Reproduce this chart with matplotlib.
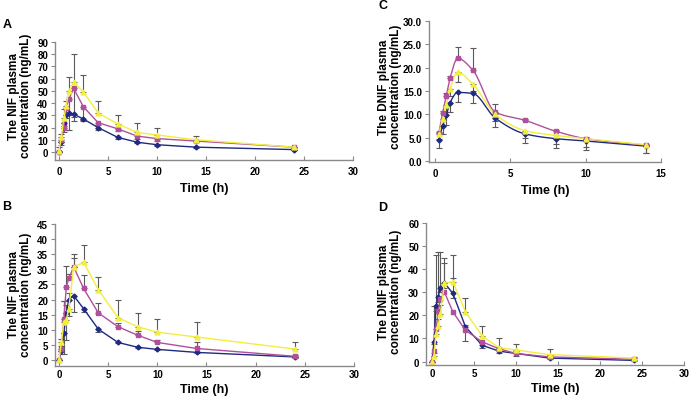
import numpy as np
import matplotlib.pyplot as plt

plt.rcParams['font.family'] = ['Liberation Sans', 'DejaVu Sans']
plt.rcParams['font.weight'] = 'bold'

# sampling times (h)
t_full = [0, 0.25, 0.5, 0.75, 1, 1.5, 2.5, 4, 6, 8, 10, 14, 24]
t_c = [0.25, 0.5, 0.75, 1, 1.5, 2.5, 4, 6, 8, 10, 14]

# panel A - NIF
a_blue = [0, 8, 24, 30, 32, 31, 27, 20, 12, 8, 6, 4, 2]
a_purple = [0, 10, 20, 36, 43, 52, 37, 24, 19, 13, 11, 9, 4]
a_yellow = [1, 12, 28, 38, 50, 57, 49, 32, 23, 16, 14, 10, 4]
a_yellow_up = [3, 3, 7, 4, 11, 23, 14, 9.5, 7.5, 7.5, 6, 3.5, 0.5]
a_purple_dn = [0, 2, 4, 18, 25, 27, 11, 2, 2, 2, 2, 1, 0.5]
a_blue_dn = [0, 2, 3, 2, 2, 2, 2, 2, 1.5, 1, 1, 0.5, 0.3]

# panel B - NIF
b_blue = [0, 3, 9, 15.5, 20, 21.3, 17, 10.2, 5.8, 4.2, 3.5, 2.5, 1]
b_purple = [0, 3.5, 13.5, 24.2, 27, 30.8, 23.7, 15.6, 11, 8.2, 5.8, 3.8, 1.2]
b_yellow = [0, 5.8, 12.5, 13.3, 17, 30.7, 32.3, 23.3, 14, 11, 9.2, 7.6, 3.6]
b_yellow_up = [0, 1, 7, 5, 5.3, 4.3, 5.9, 4.2, 5.7, 4.6, 4.4, 5.1, 2.2]
b_purple_up = [0, 1, 6, 6.8, 1.5, 3, 4.3, 3.4, 1.2, 1.5, 0.7, 2, 0.3]
b_blue_dn = [0, 1, 7, 9, 5.5, 5.3, 1, 0.8, 0.3, 0.3, 0.3, 0.3, 0.2]

# panel C - DNIF
c_blue = [4.5, 7.5, 9.8, 12.5, 14.7, 14.5, 9.2, 5.8, 4.8, 4.3, 3.2]
c_purple = [6.0, 10.2, 14, 17.8, 22, 19.5, 10.5, 8.7, 6.4, 4.8, 3.4]
c_yellow = [5.8, 9, 12, 15.5, 19, 16.5, 10, 6.5, 5.5, 4.8, 3.5]
c_purple_up = [0.3, 0.5, 0.5, 0.5, 2.5, 4.7, 1.7, 0.3, 0.3, 0.3, 0.3]
c_blue_dn = [1.8, 1.8, 2, 2, 2, 2.1, 1.9, 1.9, 1.9, 1.9, 1.5]
c_yellow_dn = [1, 1.5, 1.5, 1.5, 2, 1.5, 1.5, 1.5, 1.8, 1.7, 1.8]

# panel D - DNIF
d_blue = [0, 8.5, 24, 28, 32, 34, 29.5, 15, 7, 4.5, 3.5, 1.5, 0.5]
d_purple = [0, 4.5, 14, 22, 27, 30, 21.5, 13.5, 8.5, 5.5, 3.5, 2, 1]
d_yellow = [0, 2.5, 12, 15.5, 20.5, 34, 34.5, 21.5, 11, 6, 5, 3, 1.5]
d_blue_up = [0, 15.5, 22, 19.5, 15.5, 11, 6.5, 1, 1, 1, 1, 0.5, 0.3]
d_yellow_up = [0, 1, 2, 3, 4, 8.5, 11.5, 6, 4.5, 4, 2.8, 2.5, 0.5]
d_blue_dn = [0, 1, 2, 2, 2, 2, 2, 6, 1, 1, 1, 0.5, 0.2]

BLUE = '#1f2a80'
PURPLE = '#b0509c'
YELLOW = '#f2ee40'
ERR = '#5a5a5a'


def pchip(x, y, xs):
    # monotone cubic, used only to draw the smoothed curves of panel C
    x = np.asarray(x, float); y = np.asarray(y, float)
    h = np.diff(x); d = np.diff(y) / h
    m = np.zeros_like(y)
    for k in range(1, len(x) - 1):
        if d[k - 1] * d[k] > 0:
            w1 = 2 * h[k] + h[k - 1]; w2 = h[k] + 2 * h[k - 1]
            m[k] = (w1 + w2) / (w1 / d[k - 1] + w2 / d[k])
    m[0] = d[0]; m[-1] = d[-1]
    i = np.clip(np.searchsorted(x, xs) - 1, 0, len(x) - 2)
    s = (xs - x[i]) / h[i]
    h00 = 2 * s**3 - 3 * s**2 + 1; h10 = s**3 - 2 * s**2 + s
    h01 = -2 * s**3 + 3 * s**2; h11 = s**3 - s**2
    return h00 * y[i] + h10 * h[i] * m[i] + h01 * y[i + 1] + h11 * h[i] * m[i + 1]


def err(ax, t, y, up=None, dn=None):
    z = np.zeros(len(y))
    lo = np.array(dn) if dn is not None else z
    hi = np.array(up) if up is not None else z
    ax.errorbar(t, y, yerr=[lo, hi], fmt='none', ecolor=ERR, elinewidth=0.8,
                capsize=2, capthick=0.8, zorder=1)


def series(ax, t, y, color, marker, ms, smooth=False):
    if smooth:
        xs = np.linspace(t[0], t[-1], 300)
        ax.plot(xs, pchip(t, y, xs), color=color, lw=1, zorder=2)
        ax.plot(t, y, color=color, ls='none', marker=marker, ms=ms, zorder=3)
    else:
        ax.plot(t, y, color=color, lw=1, marker=marker, ms=ms, zorder=2)


def style(ax, xlim, ylim, yticks, xticks, fmt='%d', xpad=4, lpad=5):
    ax.set_xlim(*xlim); ax.set_ylim(*ylim)
    ax.set_xticks(xticks); ax.set_yticks(yticks)
    ax.set_yticklabels([fmt % v for v in yticks])
    for s in ['top', 'right']:
        ax.spines[s].set_visible(False)
    for s in ['left', 'bottom']:
        ax.spines[s].set_color('#8a8a8a'); ax.spines[s].set_linewidth(1)
    ax.tick_params(axis='y', direction='out', length=3, color='#8a8a8a',
                   labelsize=7, pad=2)
    ax.tick_params(axis='x', direction='in', length=3, color='#8a8a8a',
                   labelsize=7, pad=xpad)
    ax.set_xlabel('Time (h)', fontsize=9, fontweight='bold', labelpad=lpad)


fig = plt.figure(figsize=(6.92, 4.02), dpi=100)
W, H = 692, 402


def axes_px(l, r, t, b):
    return fig.add_axes([l / W, (H - b) / H, (r - l) / W, (b - t) / H])


axA = axes_px(55, 353, 43, 161)
axB = axes_px(55, 354, 225, 367)
axC = axes_px(429, 661, 22, 163)
axD = axes_px(426, 684, 224, 366)

# A
err(axA, t_full, a_yellow, up=a_yellow_up)
err(axA, t_full, a_purple, dn=a_purple_dn)
err(axA, t_full, a_blue, dn=a_blue_dn)
series(axA, t_full, a_blue, BLUE, 'D', 2.5)
series(axA, t_full, a_purple, PURPLE, 's', 3)
series(axA, t_full, a_yellow, YELLOW, '^', 3.5)
style(axA, (-0.4, 30), (-6.5, 90), range(0, 91, 10), range(0, 31, 5))

# B
err(axB, t_full, b_yellow, up=b_yellow_up)
err(axB, t_full, b_purple, up=b_purple_up)
err(axB, t_full, b_blue, dn=b_blue_dn)
series(axB, t_full, b_blue, BLUE, 'D', 2.5)
series(axB, t_full, b_purple, PURPLE, 's', 3)
series(axB, t_full, b_yellow, YELLOW, '^', 3.5)
style(axB, (-0.4, 30), (-2.0, 45), range(0, 46, 5), range(0, 31, 5),
      xpad=2, lpad=3)

# C
err(axC, t_c, c_purple, up=c_purple_up)
err(axC, t_c, c_blue, dn=c_blue_dn)
err(axC, t_c, c_yellow, dn=c_yellow_dn)
series(axC, t_c, c_blue, BLUE, 'D', 2.5, smooth=True)
series(axC, t_c, c_purple, PURPLE, 's', 3, smooth=True)
series(axC, t_c, c_yellow, YELLOW, '^', 3.5, smooth=True)
style(axC, (-0.4, 15), (-0.2, 30), np.arange(0, 30.1, 5), range(0, 16, 5), fmt='%.1f')

# D
err(axD, t_full, d_blue, up=d_blue_up, dn=d_blue_dn)
err(axD, t_full, d_yellow, up=d_yellow_up)
series(axD, t_full, d_blue, BLUE, 'D', 2.5)
series(axD, t_full, d_purple, PURPLE, 's', 3)
series(axD, t_full, d_yellow, YELLOW, '^', 3.5)
style(axD, (-0.7, 30), (-1.5, 60), range(0, 61, 10), range(0, 31, 5),
      xpad=2, lpad=3)

# y labels and panel letters
def ylab(x, y, name):
    fig.text(x / W, (H - y) / H, 'The %s plasma\nconcentration (ng/mL)' % name,
             rotation=90, ha='center', va='center', ma='center',
             fontsize=8.5, fontweight='bold', linespacing=1.0)

ylab(20, 96, 'NIF')
ylab(20, 295, 'NIF')
ylab(390, 87, 'DNIF')
ylab(390, 292, 'DNIF')

for x, y, s in [(7, 25, 'A'), (7, 207, 'B'), (383, 6, 'C'), (383, 208, 'D')]:
    fig.text(x / W, (H - y) / H, s, ha='center', va='center',
             fontsize=9, fontweight='bold')

fig.savefig('out.png', dpi=100)
